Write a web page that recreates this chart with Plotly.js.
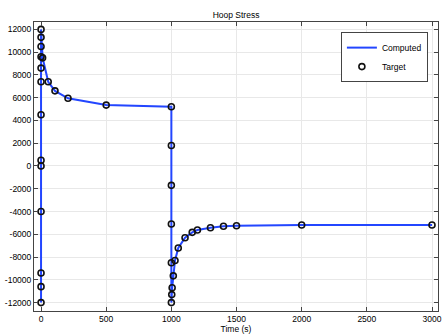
<!DOCTYPE html>
<html>
<head>
<meta charset="utf-8">
<script src="https://cdn.plot.ly/plotly-3.0.1.min.js"></script>
<style>html,body{margin:0;padding:0;background:#fff;}#chart{width:447px;height:336px;}</style>
</head>
<body>
<div id="chart"></div>
<script>
// Time (s)
var computedTime = [0,0,0,0,0,0,0,0,0,0,0,0,0, 12, 55, 107, 207, 500,
  1000,1000,1000,1000,1000,1000, 1003, 1006, 1015, 1028, 1053, 1105, 1160, 1200, 1300, 1400, 1500, 2000, 3000];
// Hoop stress
var computedStress = [-12000,-10600,-9400,-4000,0,500,4500,7400,8600,9600,10500,11300,12000, 9500, 7400, 6600, 5950, 5350,
  5200, 1800, -1700, -5100, -8500, -12000, -11300, -10700, -9650, -8300, -7200, -6300, -5830, -5630, -5420, -5300, -5250, -5190, -5190];
var targetTime = computedTime.slice();
var targetStress = computedStress.slice();
var yTicks = [-12000,-10000,-8000,-6000,-4000,-2000,0,2000,4000,6000,8000,10000,12000];
var xTicks = [0,500,1000,1500,2000,2500,3000];

var fontFam = '"Liberation Sans", Arial, sans-serif';
var traces = [
  {x: computedTime, y: computedStress, mode: 'lines', name: 'Computed',
   line: {color: 'rgb(35,70,255)', width: 2}},
  {x: targetTime, y: targetStress, mode: 'markers', name: 'Target',
   marker: {symbol: 'circle-open', color: '#111', size: 6, line: {width: 1.6, color: '#111'}}}
];
var axisCommon = {
  showline: true, linecolor: '#444', linewidth: 1, mirror: 'allticks',
  ticks: 'inside', ticklen: 4, tickcolor: '#444', tickwidth: 1,
  showgrid: true, gridcolor: '#e8e8e8', gridwidth: 1, zeroline: false,
  tickfont: {family: fontFam, size: 8.5, color: '#000'}
};
var layout = {
  width: 447, height: 336,
  margin: {l: 34, r: 9, t: 22, b: 25},
  paper_bgcolor: '#fff', plot_bgcolor: '#fff',
  title: {text: 'Hoop Stress', font: {family: fontFam, size: 8.5, color: '#000'},
          x: 0.528, xanchor: 'center', y: 0.955, yanchor: 'middle'},
  xaxis: Object.assign({}, axisCommon, {
    range: [-54, 3046], tickvals: xTicks, ticktext: xTicks.map(String),
    title: {text: 'Time (s)', font: {family: fontFam, size: 8.5, color: '#000'}, standoff: 0}
  }),
  yaxis: Object.assign({}, axisCommon, {
    range: [-12740, 12650], tickvals: yTicks, ticktext: yTicks.map(String)
  }),
  showlegend: true,
  legend: {x: 0.975, xanchor: 'right', y: 0.965, yanchor: 'top',
           bgcolor: '#fff', bordercolor: '#444', borderwidth: 1,
           font: {family: fontFam, size: 8.5, color: '#000'}, itemwidth: 30,
           tracegroupgap: 0}
};
Plotly.newPlot('chart', traces, layout, {displayModeBar: false, staticPlot: true});
</script>
</body>
</html>
